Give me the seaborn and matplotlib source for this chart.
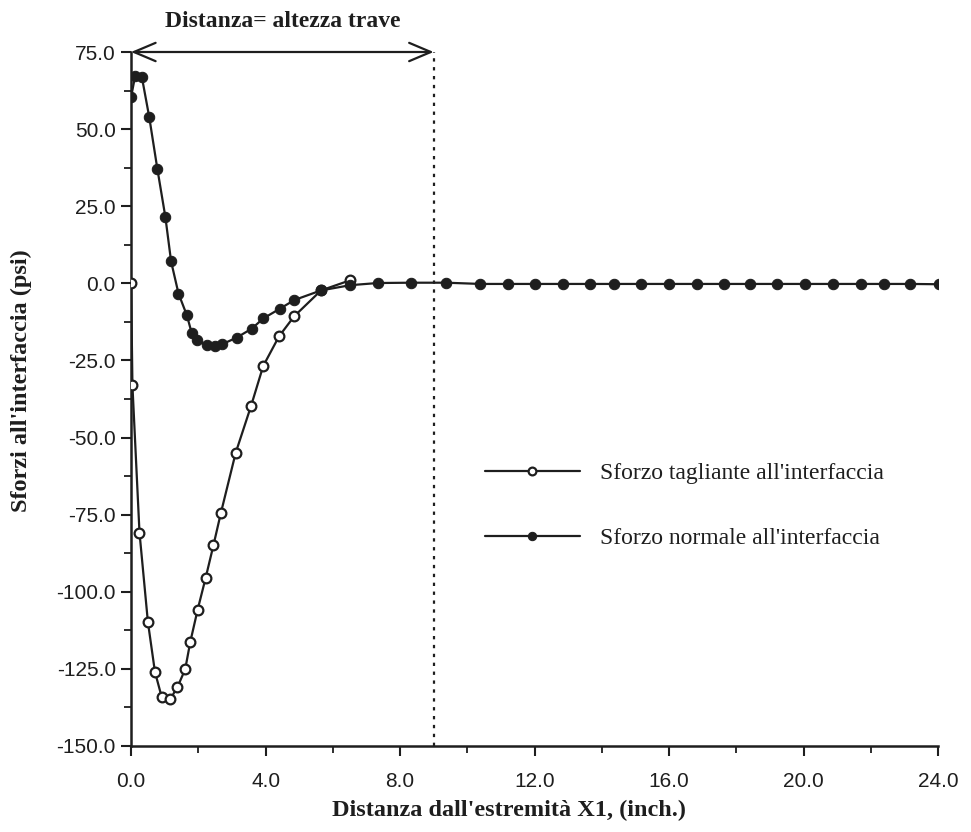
import numpy as np
import pandas as pd
import seaborn as sns
import matplotlib
matplotlib.use("Agg")
import matplotlib.pyplot as plt
from matplotlib.ticker import MultipleLocator, FormatStrFormatter

# ---- data ----
shear_x = [0.0, 0.04, 0.25, 0.50, 0.71, 0.91, 1.16, 1.38, 1.61, 1.76, 1.98, 2.22,
           2.45, 2.67, 3.11, 3.57, 3.93, 4.40, 4.85, 5.65, 6.52]
shear_y = [0.0, -33.1, -80.8, -109.8, -126.0, -134.1, -134.9, -130.9, -125.1, -116.3,
           -105.8, -95.4, -84.9, -74.5, -55.0, -39.7, -26.8, -17.2, -10.7, -2.3, 1.0]

normal_x = [0.0, 0.12, 0.32, 0.54, 0.78, 1.02, 1.19, 1.41, 1.66, 1.80, 1.95, 2.25,
            2.50, 2.70, 3.14, 3.59, 3.93, 4.43, 4.86, 5.65, 6.52, 7.34, 8.33, 9.38,
            10.39, 11.20, 12.02, 12.85, 13.66, 14.35, 15.17, 16.00, 16.82, 17.63,
            18.40, 19.20, 20.04, 20.87, 21.70, 22.39, 23.18, 24.02]
normal_y = [60.4, 67.2, 66.9, 53.9, 37.2, 21.5, 7.1, -3.3, -10.4, -16.0, -18.5, -20.1,
            -20.4, -19.8, -17.6, -14.7, -11.4, -8.2, -5.4, -2.3, -0.6, 0.1, 0.2, 0.2,
            -0.2, -0.2, -0.2, -0.2, -0.2, -0.2, -0.2, -0.2, -0.2, -0.2,
            -0.2, -0.2, -0.2, -0.2, -0.2, -0.2, -0.2, -0.3]

shear_label = "Sforzo tagliante all'interfaccia"
normal_label = "Sforzo normale all'interfaccia"
title_text = "Distanza= altezza trave"
xlabel_text = "Distanza dall'estremità X1, (inch.)"
ylabel_text = "Sforzi all'interfaccia (psi)"
beam_height = 9.0

sns.set_theme(style="ticks")
plt.rcParams['font.family'] = ['Liberation Sans', 'DejaVu Sans']

fig = plt.figure(figsize=(9.71, 8.32), dpi=100)
ax = fig.add_axes([0.135, 0.1034, 0.831, 0.8341])

ink = "#1e1e1e"
df_s = pd.DataFrame({"x": shear_x, "y": shear_y})
df_n = pd.DataFrame({"x": normal_x, "y": normal_y})

sns.lineplot(data=df_s, x="x", y="y", ax=ax, color=ink, lw=1.6, marker="o",
             markersize=7, markerfacecolor="white", markeredgecolor=ink,
             markeredgewidth=1.6, estimator=None, sort=False, label=shear_label,
             zorder=3)
sns.lineplot(data=df_n, x="x", y="y", ax=ax, color=ink, lw=1.6, marker="o",
             markersize=7.5, markerfacecolor=ink, markeredgecolor=ink,
             estimator=None, sort=False, label=normal_label, zorder=4)

ax.set_xlim(0, 24)
ax.set_ylim(-150, 75)
ax.xaxis.set_major_locator(MultipleLocator(4))
ax.xaxis.set_minor_locator(MultipleLocator(2))
ax.yaxis.set_major_locator(MultipleLocator(25))
ax.yaxis.set_minor_locator(MultipleLocator(12.5))
ax.xaxis.set_major_formatter(FormatStrFormatter("%.1f"))
ax.yaxis.set_major_formatter(FormatStrFormatter("%.1f"))
ax.tick_params(which="major", direction="out", length=7, width=1.5, color=ink,
               labelsize=15, labelcolor=ink, pad=4)
ax.tick_params(which="minor", direction="out", length=5, width=1.3, color=ink)
ax.tick_params(axis="x", pad=12)
for s in ["top", "right"]:
    ax.spines[s].set_visible(False)
for s in ["left", "bottom"]:
    ax.spines[s].set_linewidth(1.8)
    ax.spines[s].set_color(ink)

serif = ['Liberation Serif', 'DejaVu Serif']
ax.set_xlabel(xlabel_text, family=serif, fontweight="bold", fontsize=17.5,
              color=ink)
ax.set_ylabel(ylabel_text, family=serif, fontweight="bold", fontsize=17.5,
              color=ink)
ax.xaxis.set_label_coords(0.468, -0.078)
ax.yaxis.set_label_coords(-0.123, 0.527)

# dotted vertical line at the beam height
ax.axvline(beam_height, color=ink, ls=(0, (1.5, 2.5)), lw=1.6, zorder=2)

# double arrow along the top
ax.annotate("", xy=(0, 75), xytext=(beam_height, 75), xycoords="data",
            arrowprops=dict(arrowstyle="<->,head_length=1.3,head_width=0.55",
                            color=ink, lw=1.6, shrinkA=0, shrinkB=0),
            annotation_clip=False)
ax.text(4.5, 81.5, title_text, family=serif, fontweight="bold", fontsize=17,
        color=ink, ha="center", va="bottom")

leg = ax.legend(loc="upper left", bbox_to_anchor=(0.427, 0.422), frameon=False,
                prop={"family": serif, "size": 17}, handlelength=4.0,
                labelspacing=1.84, handletextpad=0.85, markerscale=0.8,
                borderaxespad=0)
for t in leg.get_texts():
    t.set_color(ink)

fig.savefig("out.png", dpi=100)
